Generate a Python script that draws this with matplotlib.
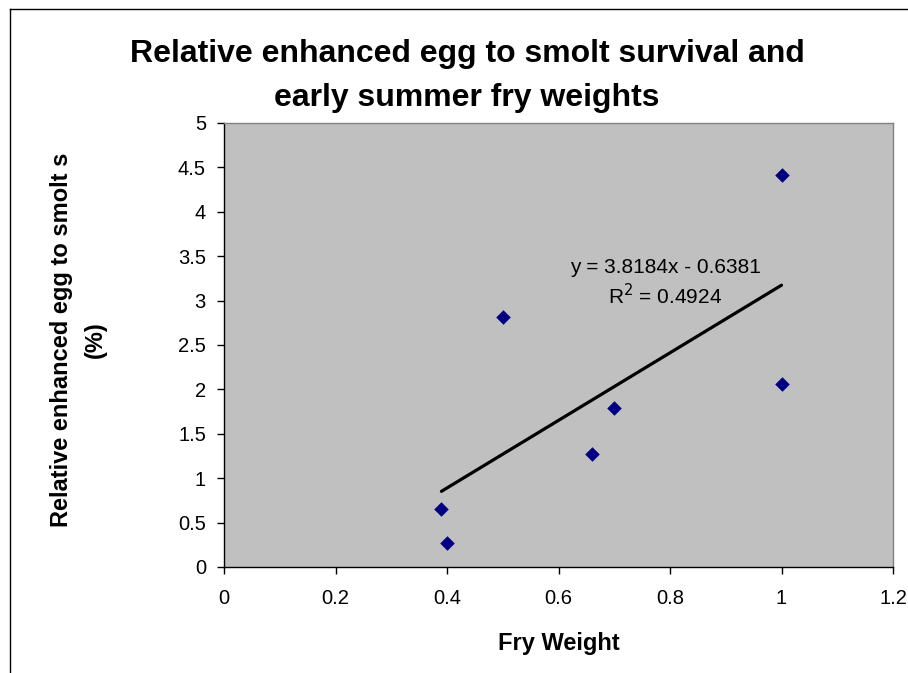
import matplotlib
matplotlib.use("Agg")
import matplotlib.pyplot as plt
from matplotlib.lines import Line2D
import numpy as np

plt.rcParams['font.family'] = ['Liberation Sans', 'DejaVu Sans']

fry_weight = [0.39, 0.40, 0.50, 0.66, 0.70, 1.00, 1.00]
survival = [0.65, 0.27, 2.82, 1.27, 1.79, 4.41, 2.06]
x_ticks = [0, 0.2, 0.4, 0.6, 0.8, 1, 1.2]
x_tick_labels = ["0", "0.2", "0.4", "0.6", "0.8", "1", "1.2"]
y_ticks = [0, 0.5, 1, 1.5, 2, 2.5, 3, 3.5, 4, 4.5, 5]
y_tick_labels = ["0", "0.5", "1", "1.5", "2", "2.5", "3", "3.5", "4", "4.5", "5"]
title = "Relative enhanced egg to smolt survival and\nearly summer fry weights"
xlabel = "Fry Weight"
ylabel = "Relative enhanced egg to smolt s\n(%)"
eq_text = "y = 3.8184x - 0.6381\nR$^2$ = 0.4924"

W, H = 908, 673
fig = plt.figure(figsize=(W / 100, H / 100), dpi=100)
fig.patch.set_facecolor('white')

# outer chart frame
fig.add_artist(Line2D([10 / W, 10 / W], [0, 1 - 9 / H], transform=fig.transFigure, color='black', lw=1))
fig.add_artist(Line2D([10 / W, 1], [1 - 9 / H, 1 - 9 / H], transform=fig.transFigure, color='black', lw=1))

ax = fig.add_axes([224 / W, 1 - 567 / H, (893 - 224) / W, (567 - 123) / H])
ax.set_facecolor('#C0C0C0')

ax.scatter(fry_weight, survival, marker='D', s=55, color='#000080', zorder=3, linewidths=0)

coef = np.polyfit(fry_weight, survival, 1)
xs = np.array([min(fry_weight), max(fry_weight)])
ax.plot(xs, np.polyval(coef, xs), color='black', lw=2.3, solid_capstyle='round', zorder=2)

ax.text(0.791, 3.20, eq_text, ha='center', va='center', fontsize=15, linespacing=1.3)

ax.set_xlim(0, 1.2)
ax.set_ylim(0, 5)
ax.set_xticks(x_ticks)
ax.set_xticklabels(x_tick_labels)
ax.set_yticks(y_ticks)
ax.set_yticklabels(y_tick_labels)
ax.tick_params(axis='both', direction='out', length=5, width=1, labelsize=14.5, colors='black')
ax.tick_params(axis='x', pad=11)
ax.tick_params(axis='y', pad=8)

for s in ['top', 'right']:
    ax.spines[s].set_color('#808080')
    ax.spines[s].set_linewidth(1)
for s in ['left', 'bottom']:
    ax.spines[s].set_color('black')
    ax.spines[s].set_linewidth(1)

ax.set_xlabel(xlabel, fontsize=17, fontweight='bold', labelpad=17)
fig.text(78.5 / W, 1 - 340 / H, ylabel, rotation=90, ha='center', va='center',
         fontsize=17, fontweight='bold', linespacing=1.56)
fig.text(467 / W, 1 - 76 / H, title, ha='center', va='center', fontsize=23,
         fontweight='bold', linespacing=1.62)

fig.savefig('out.png', dpi=100)
